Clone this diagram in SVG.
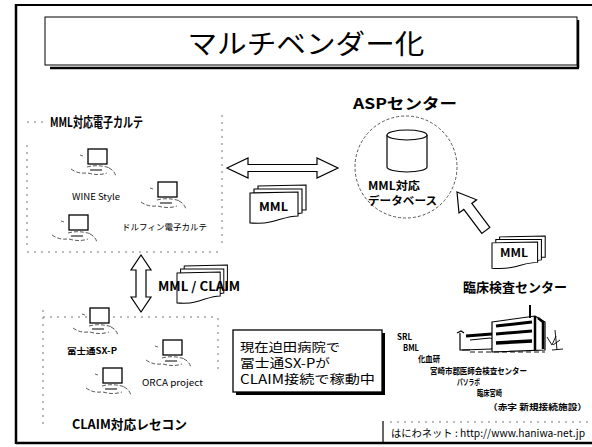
<svg xmlns="http://www.w3.org/2000/svg" xmlns:xlink="http://www.w3.org/1999/xlink" width="592" height="447" viewBox="0 0 592 447">
  <style>
    .jp { font-family: "Noto Sans CJK JP", "Liberation Sans", sans-serif; fill: #000; }
    .b { font-weight: bold; }
    .frame { stroke: #000; fill: none; }
    .dash { stroke: #777; stroke-width: 1; fill: none; stroke-dasharray: 2 5; }
    .arrow { fill: #fff; stroke: #000; stroke-width: 1.2; stroke-linejoin: miter; }
    .mon { fill: #fff; stroke: #000; stroke-width: 1.3; }
    .kb { fill: none; stroke: #444; stroke-width: 0.9; stroke-dasharray: 4 2; }
    .page { fill: #fff; stroke: #000; stroke-width: 1.1; }
  </style>
  <defs>
    <!-- desktop computer: monitor with a sketchy keyboard -->
    <g id="pc">
      <rect class="mon" x="0" y="0" width="19" height="15"/>
      <path d="M-8,6 L-5,7" stroke="#555" stroke-width="0.9"/>
      <path class="kb" d="M-17,20 Q-10,25 -2,24"/>
      <path class="kb" d="M-1,18 Q10,15 22,19"/>
      <path class="kb" d="M0,24 Q10,27 19,24"/>
      <path class="kb" d="M21,19 Q27,22 28,28"/>
      <path d="M2,21 L14,21" stroke="#000" stroke-width="1"/>
    </g>
    <!-- stack of three documents with a wavy lower edge -->
    <g id="docs">
      <path class="page" d="M8,-6 L56,-7 L56,18 L8,18 Z"/>
      <path class="page" d="M4,-3 L52,-3 L52,21 C42,22 30,26 20,28 L4,28 Z"/>
      <path class="page" d="M0,1 L48,0 L48,24 C38,24 30,28 20,30 C12,32 4,31 0,31 Z"/>
    </g>
  </defs>

  <rect width="592" height="447" fill="#fff"/>

  <!-- outer frame -->
  <g id="frame">
    <path class="frame" d="M16,4 L16,444" stroke-width="2.5"/>
    <path class="frame" d="M16,5 L592,5" stroke-width="2"/>
    <path class="frame" d="M16,443 L592,443" stroke-width="2.5"/>
    <path class="frame" d="M383,421 L383,442" stroke-width="1.2"/>
    <path class="dash" d="M390,422 L592,422"/>
  </g>

  <!-- title -->
  <g id="title">
    <path class="frame" d="M50,68 L579,68 M578,20 L578,68" stroke-width="2.5"/>
    <rect x="45" y="17" width="532" height="48" fill="#fff" stroke="#000" stroke-width="1"/>
    <text class="jp" x="306" y="54" font-size="27" text-anchor="middle" textLength="237" lengthAdjust="spacingAndGlyphs">マルチベンダー化</text>
  </g>

  <!-- MML-capable electronic medical record systems -->
  <g id="emr-group">
    <path class="dash" d="M27,122 L48,122"/>
    <text class="jp b" x="50" y="127" font-size="13.5" textLength="93" lengthAdjust="spacingAndGlyphs">MML対応電子カルテ</text>
    <path class="dash" d="M222,115 L222,247 M27,145 L27,250 M27,252 L222,252"/>
    <use xlink:href="#pc" x="88" y="149"/>
    <text class="jp" x="72" y="200" font-size="8.5" textLength="48" lengthAdjust="spacingAndGlyphs">WINE Style</text>
    <use xlink:href="#pc" x="158" y="182"/>
    <text class="jp" x="122" y="230" font-size="8.5" textLength="85" lengthAdjust="spacingAndGlyphs">ドルフィン電子カルテ</text>
    <use xlink:href="#pc" x="69" y="215"/>
  </g>

  <!-- ASP center -->
  <g id="asp-center">
    <text class="jp b" x="353" y="109" font-size="15" textLength="104" lengthAdjust="spacingAndGlyphs">ASPセンター</text>
    <circle cx="406" cy="167" r="51" fill="none" stroke="#555" stroke-width="1" stroke-dasharray="3 2"/>
    <path d="M387,135 L387,167 A20,5 0 0 0 427,167 L427,135" fill="#fff" stroke="#000" stroke-width="1.2"/>
    <ellipse cx="407" cy="135" rx="20" ry="5" fill="#fff" stroke="#000" stroke-width="1.2"/>
    <text class="jp b" x="368" y="190" font-size="11" textLength="52" lengthAdjust="spacingAndGlyphs">MML対応</text>
    <text class="jp b" x="368" y="205" font-size="11" textLength="69" lengthAdjust="spacingAndGlyphs">データベース</text>
  </g>

  <!-- clinical laboratory centers -->
  <g id="lab-center">
    <use xlink:href="#docs" transform="translate(492,242) scale(0.95,0.85)"/>
    <text class="jp b" x="500" y="257" font-size="11" textLength="28" lengthAdjust="spacingAndGlyphs">MML</text>
    <text class="jp b" x="463" y="292" font-size="13" textLength="104" lengthAdjust="spacingAndGlyphs">臨床検査センター</text>
    <!-- building sketch -->
    <g stroke="#000" fill="none" stroke-width="1.2">
      <path d="M460,333 L460,350 L470,350 M457,333 L461,331 L464,333" />
      <path d="M462,350 L492,349 L495,340 L490,338 L470,340" stroke-width="1"/>
      <path d="M466,336 L492,334" stroke-width="3"/>
      <path d="M492,322 L535,316 L545,322 L545,350 L492,352 Z" fill="#fff"/>
      <path d="M535,316 L535,350 M538,318 L543,322 L543,349" stroke-width="2.5"/>
      <path d="M496,326 L532,322" stroke-width="3"/>
      <path d="M496,334 L532,331" stroke-width="3"/>
      <path d="M496,343 L532,341" stroke-width="3.5"/>
      <path d="M530,305 L530,318" stroke-width="2"/>
      <path d="M547,337 L552,345 L556,336 M553,345 L560,340 M552,350 L563,349 M555,330 L557,350" stroke-width="0.9"/>
      <path d="M470,352 L545,352" stroke-width="0.9" stroke-dasharray="5 3"/>
    </g>
    <text class="jp b" x="397" y="340" font-size="8.5" textLength="15" lengthAdjust="spacingAndGlyphs">SRL</text>
    <text class="jp b" x="403" y="351" font-size="8.5" textLength="16" lengthAdjust="spacingAndGlyphs">BML</text>
    <text class="jp b" x="418" y="362" font-size="8.5" textLength="22" lengthAdjust="spacingAndGlyphs">化血研</text>
    <text class="jp b" x="430" y="374" font-size="8.5" textLength="97" lengthAdjust="spacingAndGlyphs">宮崎市郡医師会検査センター</text>
    <text class="jp b" x="457" y="385" font-size="8.5" textLength="23" lengthAdjust="spacingAndGlyphs">パソラボ</text>
    <text class="jp b" x="477" y="396" font-size="8.5" textLength="25" lengthAdjust="spacingAndGlyphs">臨床宮崎</text>
    <text class="jp b" x="488" y="410" font-size="8.5" textLength="99" lengthAdjust="spacingAndGlyphs">（赤字 新規接続施設）</text>
  </g>

  <!-- CLAIM-capable receipt computers -->
  <g id="receipt-group">
    <path class="dash" d="M43,310 L43,425 M43,317 L218,317 M218,318 L218,370"/>
    <use xlink:href="#pc" x="90" y="308"/>
    <text class="jp b" x="67" y="354" font-size="8.5" textLength="50" lengthAdjust="spacingAndGlyphs">冨士通SX-P</text>
    <use xlink:href="#pc" x="163" y="340"/>
    <text class="jp" x="142" y="386" font-size="8.5" textLength="61" lengthAdjust="spacingAndGlyphs">ORCA project</text>
    <use xlink:href="#pc" x="103" y="368"/>
    <text class="jp b" x="72" y="429" font-size="13" textLength="115" lengthAdjust="spacingAndGlyphs">CLAIM対応レセコン</text>
  </g>

  <!-- note box -->
  <g id="note">
    <rect x="236" y="333" width="149" height="62" fill="#000"/>
    <rect x="233" y="330" width="149" height="62" fill="#fff" stroke="#000" stroke-width="1.3"/>
    <text class="jp" x="240" y="352" font-size="12.5" textLength="100" lengthAdjust="spacingAndGlyphs">現在迫田病院で</text>
    <text class="jp" x="240" y="368" font-size="12.5" textLength="90" lengthAdjust="spacingAndGlyphs">冨士通SX-Pが</text>
    <text class="jp" x="240" y="384" font-size="12.5" textLength="135" lengthAdjust="spacingAndGlyphs">CLAIM接続で稼動中</text>
  </g>

  <!-- footer -->
  <g id="footer">
    <text class="jp" x="391" y="437" font-size="10.5" textLength="194" lengthAdjust="spacingAndGlyphs">はにわネット : http://www.haniwa-net.jp</text>
  </g>

  <!-- connectors -->
  <g id="connectors">
    <path class="arrow" d="M227,168 L248,158 L248,164.5 L317,164.5 L317,158 L338,168 L317,178 L317,171.5 L248,171.5 L248,178 Z"/>
    <use xlink:href="#docs" x="250" y="192"/>
    <text class="jp b" x="259" y="211" font-size="12" textLength="29" lengthAdjust="spacingAndGlyphs">MML</text>

    <path class="arrow" d="M141,255 L151,270 L146,270 L146,297 L151,297 L141,312 L131,297 L136,297 L136,270 L131,270 Z"/>
    <use xlink:href="#docs" transform="translate(177,272) scale(0.9,1)"/>
    <text class="jp b" x="158" y="291" font-size="12.5" textLength="82" lengthAdjust="spacingAndGlyphs">MML / CLAIM</text>

    <path class="arrow" transform="translate(457,192) rotate(-36.87)" d="M0,0 L11,18 L5,18 L5,48 L-5,48 L-5,18 L-11,18 Z"/>
  </g>
</svg>
